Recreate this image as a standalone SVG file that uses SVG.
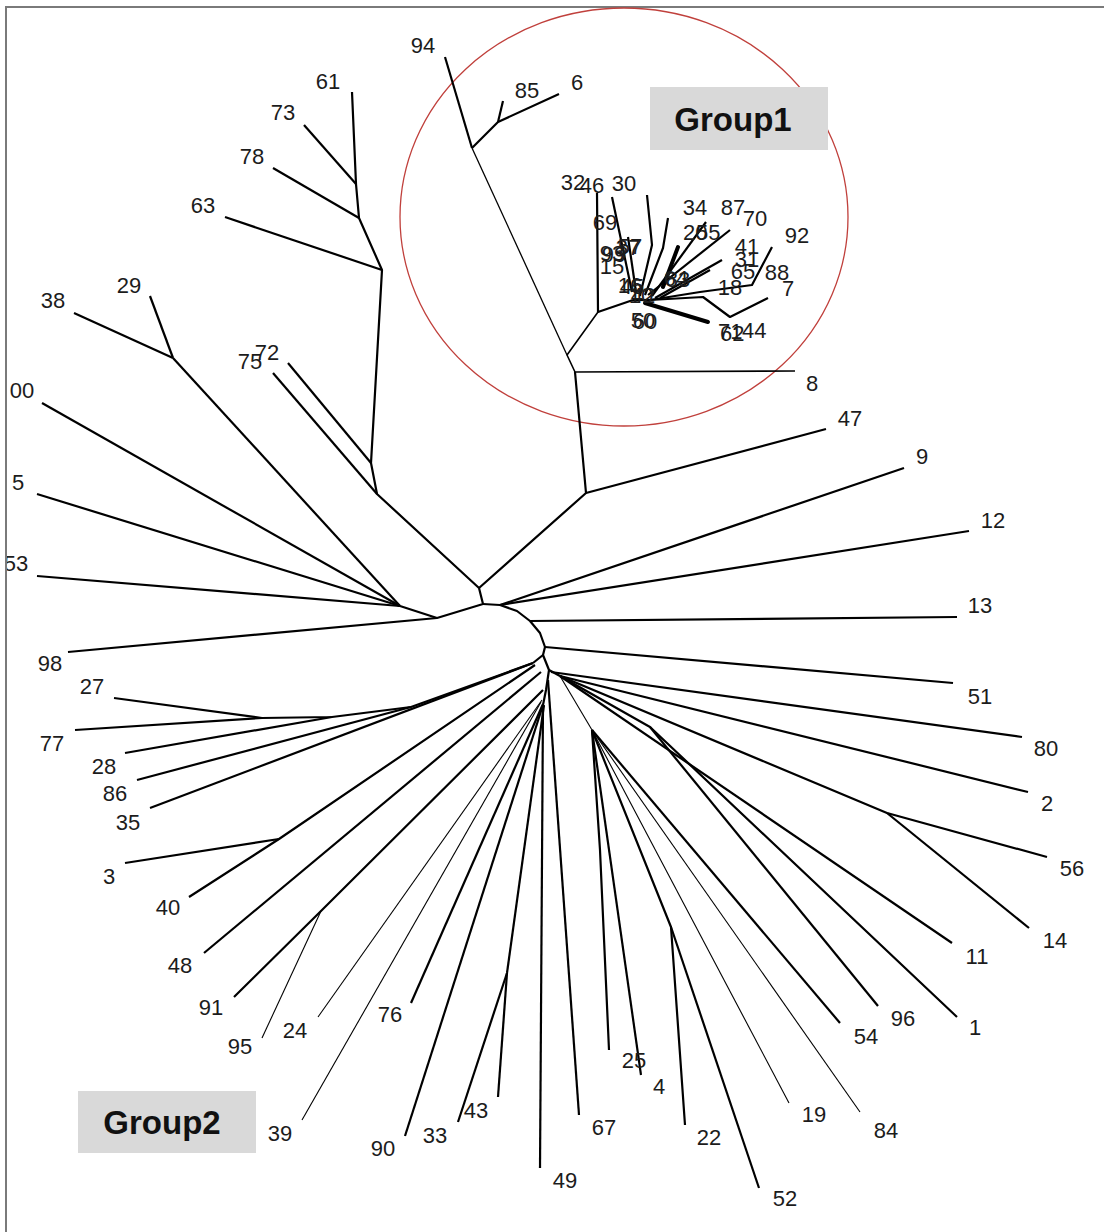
<svg xmlns="http://www.w3.org/2000/svg" width="1104" height="1232" viewBox="0 0 1104 1232">
  <style>
    .lb { font-family: "Liberation Sans", Arial, sans-serif; font-size: 22px; fill: #1c1c1c; text-anchor: middle; }
    .ov { font-family: "Liberation Sans", Arial, sans-serif; font-size: 22px; fill: #1c1c1c; }
    .gl { font-family: "Liberation Sans", Arial, sans-serif; font-size: 33px; font-weight: bold; fill: #111; text-anchor: middle; }
    .e { stroke: #000; stroke-width: 2.2; fill: none; stroke-linejoin: round; }
    .t { stroke: #000; stroke-width: 1.1; fill: none; }
    .k { stroke: #000; stroke-width: 4; fill: none; stroke-linecap: round; }
  </style>
  <defs>
    <clipPath id="frame"><rect x="7" y="8" width="1097" height="1224"/></clipPath>
  </defs>

  <rect width="1104" height="1232" fill="#fff"/>
  <path d="M6,1232 V7 H1104" fill="none" stroke="#7a7a7a" stroke-width="2"/>

  <!-- ring around the first group -->
  <ellipse id="group1-ring" cx="624" cy="217" rx="224" ry="209" fill="none" stroke="#c0403c" stroke-width="1.3"/>

  <g id="connectors">
    <!-- upper-left clade -->
    <polyline class="e" points="352,92 356,184 359,218 382,270 371,463 377,494 479,588"/>
    <line class="e" x1="304" y1="125" x2="356" y2="184"/>
    <line class="e" x1="273" y1="168" x2="359" y2="218"/>
    <line class="e" x1="225" y1="217" x2="382" y2="270"/>
    <line class="e" x1="288" y1="363" x2="371" y2="463"/>
    <line class="e" x1="273" y1="373" x2="377" y2="494"/>
    <!-- left clade -->
    <line class="e" x1="74" y1="313" x2="173" y2="358"/>
    <line class="e" x1="150" y1="296" x2="173" y2="358"/>
    <line class="e" x1="173" y1="358" x2="400" y2="606"/>
    <line class="e" x1="42" y1="403" x2="400" y2="606"/>
    <line class="e" x1="37" y1="494" x2="400" y2="606"/>
    <line class="e" x1="37" y1="576" x2="400" y2="606"/>
    <polyline class="e" points="400,606 437,618 483,604 479,588"/>
    <line class="e" x1="68" y1="652" x2="437" y2="618"/>
    <!-- trunk to group 1 -->
    <polyline class="e" points="479,588 586,493 575,372"/>
    <line class="e" x1="586" y1="493" x2="826" y2="429"/>
    <line class="e" x1="575" y1="372" x2="795" y2="371" style="stroke-width:1.6"/>
    <polyline class="e" points="575,372 567,355 598,312" style="stroke-width:1.6"/>
    <line class="t" x1="567" y1="355" x2="472" y2="148" style="stroke-width:1.3"/>
    <line class="e" x1="472" y1="148" x2="445" y2="57"/>
    <polyline class="e" points="472,148 498,122 559,94"/>
    <line class="e" x1="498" y1="122" x2="503" y2="101"/>
    <!-- group 1 cluster -->
    <polyline class="e" points="597,193 598,312 633,300"/>
    <polyline class="e" points="647,195 652,245 640,296"/>
    <line class="e" x1="612" y1="197" x2="632" y2="292"/>
    <line class="e" x1="628" y1="237" x2="636" y2="292"/>
    <polyline class="e" points="668,218 663,248 645,295"/>
    <line class="k" x1="678" y1="247" x2="663" y2="287"/>
    <line class="e" x1="706" y1="222" x2="652" y2="296"/>
    <line class="e" x1="730" y1="230" x2="648" y2="295"/>
    <line class="e" x1="722" y1="260" x2="655" y2="298"/>
    <line class="e" x1="710" y1="270" x2="660" y2="298"/>
    <polyline class="e" points="772,247 752,285 700,292 650,300"/>
    <polyline class="e" points="768,298 730,317 703,297 650,300"/>
    <polyline class="k" points="645,303 708,322"/>
    <line class="e" x1="633" y1="300" x2="650" y2="300"/>
    <!-- right side -->
    <polyline class="e" points="483,604 500,605 517,611 530,621 540,633 545,647 543,655 549,670 546,690 543,705"/>
    <line class="e" x1="500" y1="605" x2="904" y2="468"/>
    <line class="e" x1="500" y1="605" x2="969" y2="531"/>
    <line class="e" x1="530" y1="621" x2="957" y2="617"/>
    <line class="e" x1="545" y1="647" x2="953" y2="683"/>
    <!-- lower-left fan -->
    <line class="e" x1="543" y1="655" x2="533" y2="663"/>
    <line class="e" x1="533" y1="663" x2="150" y2="808"/>
    <polyline class="e" points="533,663 411,707 332,717 262,718"/>
    <line class="e" x1="137" y1="780" x2="411" y2="707"/>
    <line class="e" x1="125" y1="753" x2="332" y2="717"/>
    <line class="e" x1="114" y1="698" x2="262" y2="718"/>
    <line class="e" x1="75" y1="730" x2="262" y2="718"/>
    <polyline class="e" points="189,897 279,839 535,665"/>
    <line class="e" x1="125" y1="863" x2="279" y2="839"/>
    <line class="e" x1="204" y1="953" x2="541" y2="672"/>
    <polyline class="e" points="234,997 321,911 543,690"/>
    <line class="t" x1="262" y1="1038" x2="321" y2="911"/>
    <line class="t" x1="318" y1="1017" x2="542" y2="700"/>
    <line class="t" x1="302" y1="1120" x2="541" y2="702"/>
    <line class="e" x1="411" y1="1003" x2="543" y2="704"/>
    <line class="e" x1="405" y1="1136" x2="543" y2="705"/>
    <line class="e" x1="507" y1="973" x2="544" y2="705"/>
    <line class="e" x1="458" y1="1122" x2="507" y2="973"/>
    <line class="e" x1="498" y1="1097" x2="507" y2="973"/>
    <line class="e" x1="540" y1="1168" x2="543" y2="705"/>
    <line class="e" x1="579" y1="1115" x2="548" y2="680"/>
    <!-- lower-right fan -->
    <line class="e" x1="549" y1="670" x2="560" y2="676"/>
    <line class="e" x1="551" y1="672" x2="1022" y2="737"/>
    <line class="e" x1="560" y1="676" x2="1028" y2="792"/>
    <polyline class="e" points="560,676 887,813 1047,857"/>
    <line class="e" x1="887" y1="813" x2="1029" y2="928"/>
    <line class="e" x1="560" y1="676" x2="952" y2="943"/>
    <polyline class="e" points="560,676 650,727 957,1017"/>
    <line class="e" x1="650" y1="727" x2="878" y2="1006"/>
    <line class="t" x1="560" y1="676" x2="592" y2="730"/>
    <line class="e" x1="592" y1="730" x2="840" y2="1023"/>
    <polyline class="e" points="592,730 600,850 609,1050"/>
    <line class="e" x1="592" y1="730" x2="641" y2="1075"/>
    <polyline class="e" points="592,730 671,927 685,1125"/>
    <line class="e" x1="671" y1="927" x2="759" y2="1188"/>
    <line class="t" x1="592" y1="730" x2="789" y2="1103"/>
    <line class="t" x1="592" y1="730" x2="860" y2="1112"/>
  </g>

  <!-- group boxes -->
  <g id="group1">
    <rect x="650" y="87" width="178" height="63" fill="#d9d9d9"/>
    <text class="gl" x="733" y="131">Group1</text>
  </g>
  <g id="group2">
    <rect x="78" y="1091" width="178" height="62" fill="#d9d9d9"/>
    <text class="gl" x="162" y="1134">Group2</text>
  </g>

  <!-- leaf labels -->
  <g id="n94"><text class="lb" x="423" y="53">94</text></g>
  <g id="n85"><text class="lb" x="527" y="98">85</text></g>
  <g id="n6"><text class="lb" x="577" y="90">6</text></g>
  <g id="n61"><text class="lb" x="328" y="89">61</text></g>
  <g id="n73"><text class="lb" x="283" y="120">73</text></g>
  <g id="n78"><text class="lb" x="252" y="164">78</text></g>
  <g id="n63"><text class="lb" x="203" y="213">63</text></g>
  <g id="n38"><text class="lb" x="53" y="308">38</text></g>
  <g id="n29"><text class="lb" x="129" y="293">29</text></g>
  <g id="n75"><text class="lb" x="250" y="369">75</text></g>
  <g id="n72"><text class="lb" x="267" y="360">72</text></g>
  <g id="n100"><text class="lb" x="22" y="398">00</text></g>
  <g id="n5"><text class="lb" x="18" y="490">5</text></g>
  <g id="n53" clip-path="url(#frame)"><text class="lb" x="16" y="571">53</text></g>
  <g id="n98"><text class="lb" x="50" y="671">98</text></g>
  <g id="n27"><text class="lb" x="92" y="694">27</text></g>
  <g id="n77"><text class="lb" x="52" y="751">77</text></g>
  <g id="n28"><text class="lb" x="104" y="774">28</text></g>
  <g id="n86"><text class="lb" x="115" y="801">86</text></g>
  <g id="n35"><text class="lb" x="128" y="830">35</text></g>
  <g id="n3"><text class="lb" x="109" y="884">3</text></g>
  <g id="n40"><text class="lb" x="168" y="915">40</text></g>
  <g id="n48"><text class="lb" x="180" y="973">48</text></g>
  <g id="n91"><text class="lb" x="211" y="1015">91</text></g>
  <g id="n95"><text class="lb" x="240" y="1054">95</text></g>
  <g id="n24"><text class="lb" x="295" y="1038">24</text></g>
  <g id="n39"><text class="lb" x="280" y="1141">39</text></g>
  <g id="n76"><text class="lb" x="390" y="1022">76</text></g>
  <g id="n90"><text class="lb" x="383" y="1156">90</text></g>
  <g id="n33"><text class="lb" x="435" y="1143">33</text></g>
  <g id="n43"><text class="lb" x="476" y="1118">43</text></g>
  <g id="n49"><text class="lb" x="565" y="1188">49</text></g>
  <g id="n67"><text class="lb" x="604" y="1135">67</text></g>
  <g id="n25"><text class="lb" x="634" y="1068">25</text></g>
  <g id="n4"><text class="lb" x="659" y="1094">4</text></g>
  <g id="n22"><text class="lb" x="709" y="1145">22</text></g>
  <g id="n52"><text class="lb" x="785" y="1206">52</text></g>
  <g id="n19"><text class="lb" x="814" y="1122">19</text></g>
  <g id="n84"><text class="lb" x="886" y="1138">84</text></g>
  <g id="n54"><text class="lb" x="866" y="1044">54</text></g>
  <g id="n96"><text class="lb" x="903" y="1026">96</text></g>
  <g id="n1"><text class="lb" x="975" y="1035">1</text></g>
  <g id="n11"><text class="lb" x="977" y="964">11</text></g>
  <g id="n14"><text class="lb" x="1055" y="948">14</text></g>
  <g id="n56"><text class="lb" x="1072" y="876">56</text></g>
  <g id="n2"><text class="lb" x="1047" y="811">2</text></g>
  <g id="n80"><text class="lb" x="1046" y="756">80</text></g>
  <g id="n51"><text class="lb" x="980" y="704">51</text></g>
  <g id="n13"><text class="lb" x="980" y="613">13</text></g>
  <g id="n12"><text class="lb" x="993" y="528">12</text></g>
  <g id="n9"><text class="lb" x="922" y="464">9</text></g>
  <g id="n47"><text class="lb" x="850" y="426">47</text></g>
  <g id="n8"><text class="lb" x="812" y="391">8</text></g>

  <!-- group 1 cluster labels (tightly packed, so several overlap) -->
  <g id="n32"><text class="lb" x="573" y="190">32</text></g>
  <g id="n46"><text class="lb" x="592" y="193">46</text></g>
  <g id="n30"><text class="lb" x="624" y="191">30</text></g>
  <g id="n69"><text class="lb" x="605" y="230">69</text></g>
  <g id="n34"><text class="lb" x="695" y="215">34</text></g>
  <g id="n87"><text class="lb" x="733" y="215">87</text></g>
  <g id="n70"><text class="lb" x="755" y="226">70</text></g>
  <g id="n92"><text class="lb" x="797" y="243">92</text></g>
  <g id="n41"><text class="lb" x="747" y="254">41</text></g>
  <g id="n31"><text class="lb" x="747" y="267">31</text></g>
  <g id="n65"><text class="lb" x="743" y="279">65</text></g>
  <g id="n88"><text class="lb" x="777" y="280">88</text></g>
  <g id="n7"><text class="lb" x="788" y="296">7</text></g>
  <g id="n18"><text class="lb" x="730" y="295">18</text></g>
  <g id="n15"><text class="lb" x="612" y="274">15</text></g>
  <g id="n93"><text class="lb" x="612" y="261">93</text></g>
  <g id="n99"><text class="lb" x="614" y="262">99</text></g>
  <g id="n37"><text class="lb" x="628" y="255">37</text></g>
  <g id="n57"><text class="lb" x="630" y="254">57</text></g>
  <g id="n20"><text class="ov" x="683" y="240">20</text></g>
  <g id="n55"><text class="ov" x="696" y="240">55</text></g>
  <g id="n16"><text class="lb" x="630" y="293">16</text></g>
  <g id="n45"><text class="lb" x="632" y="294">45</text></g>
  <g id="n10"><text class="lb" x="641" y="303">10</text></g>
  <g id="n42"><text class="lb" x="643" y="303">42</text></g>
  <g id="n64"><text class="lb" x="676" y="286">64</text></g>
  <g id="n83"><text class="lb" x="678" y="287">83</text></g>
  <g id="n50"><text class="lb" x="643" y="328">50</text></g>
  <g id="n60"><text class="lb" x="645" y="329">60</text></g>
  <g id="n71"><text class="ov" x="718" y="339">71</text></g>
  <g id="n62"><text class="ov" x="720" y="341">62</text></g>
  <g id="n44"><text class="ov" x="742" y="338">44</text></g>
</svg>
